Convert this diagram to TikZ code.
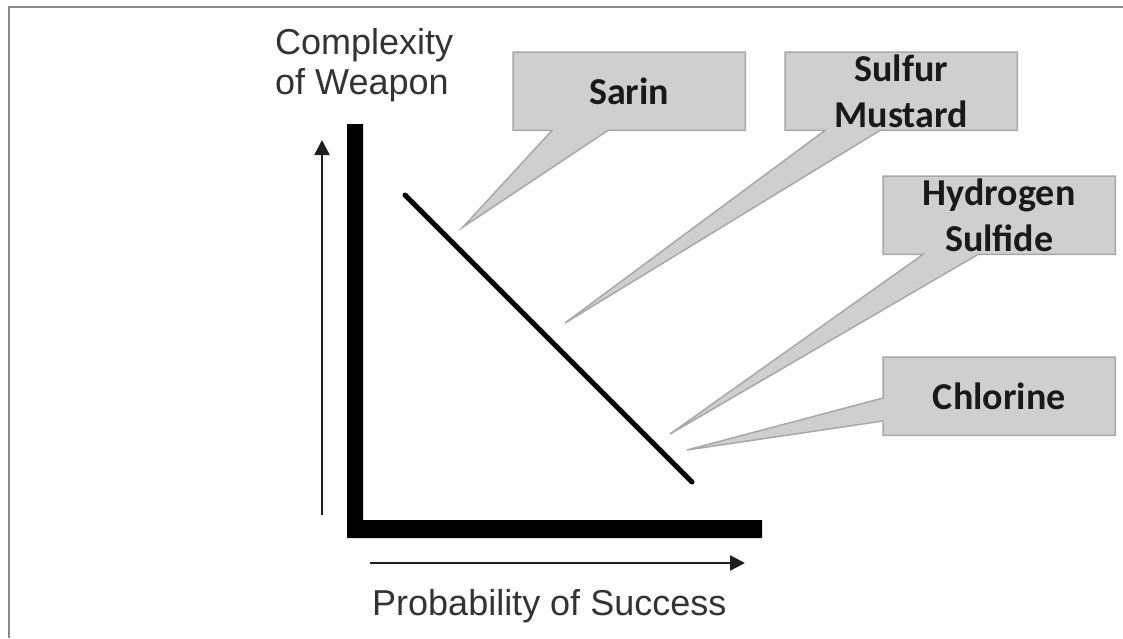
\documentclass[tikz,border=0pt]{standalone}
\usepackage{fontspec}
\setmainfont{Liberation Sans}
\newfontfamily\calloutfont{Carlito}
\usetikzlibrary{arrows.meta,backgrounds,calc}
\definecolor{calfill}{HTML}{CFCFCF}
\definecolor{caledge}{HTML}{A8A8A8}
\definecolor{axtext}{HTML}{333333}
\definecolor{arrowcol}{HTML}{1E1E1E}
\definecolor{frame}{HTML}{8A8A8A}
\begin{document}
\begin{tikzpicture}[x=1pt,y=-1pt,
  calbox/.style={font=\calloutfont\bfseries\fontsize{38}{46}\selectfont, text=black!90,
    align=center, minimum width=232pt, minimum height=78pt, inner sep=0pt, anchor=north west},
  calshape/.style={fill=calfill, draw=caledge, line width=1.5pt, line join=miter},
  axlabel/.style={font=\fontsize{36}{40}\selectfont, text=axtext, inner sep=0pt, align=left},
  thinarrow/.style={draw=arrowcol, line width=2.4pt, -{Triangle[length=15pt,width=15pt]}},
  trend/.style={line width=5pt, line cap=round}]
\useasboundingbox (0,0) rectangle (1123,638);
% frame (top and left only)
\draw[frame, line width=2.5pt] (9,638) -- (9,7) -- (1123,7);

% axes labels
\node[axlabel, anchor=north west] (ylab) at (275,28) {Complexity\\of Weapon};
\node[axlabel, anchor=base west] (xlab) at (372,615) {Probability of Success};

% thick L axes
\fill (347,124) -- (363,124) -- (363,520) -- (762,520) -- (762,538) -- (347,538) -- cycle;

% thin arrows
\coordinate (ya) at (322,515);
\coordinate (yb) at (322,140);
\coordinate (xa) at (370,563);
\coordinate (xb) at (745,563);
\draw[thinarrow] (ya) -- (yb);
\draw[thinarrow] (xa) -- (xb);

% trend line
\coordinate (t1) at (405,195);
\coordinate (t2) at (692,482);
\draw[trend] (t1) -- (t2);

% callouts
\node[calbox] (sarin) at (513,52) {Sarin};
\node[calbox] (mustard) at (785,52) {Sulfur\\Mustard};
\node[calbox] (hydro) at (883,176) {Hydrogen\\Sulfide};
\node[calbox] (chlor) at (883,357) {Chlorine};

\coordinate (sarintip) at (463,227);
\coordinate (mustip) at (565,323);
\coordinate (hydtip) at (670,434);
\coordinate (chltip) at (687,450);

\begin{scope}[on background layer]
\path[calshape] (sarin.north west) -- (sarin.north east) -- (sarin.south east)
  -- ($(sarin.south west)+(95,0)$) -- (sarintip) -- ($(sarin.south west)+(39,0)$)
  -- (sarin.south west) -- cycle;
\path[calshape] (mustard.north west) -- (mustard.north east) -- (mustard.south east)
  -- ($(mustard.south west)+(95,0)$) -- (mustip) -- ($(mustard.south west)+(40,0)$)
  -- (mustard.south west) -- cycle;
\path[calshape] (hydro.north west) -- (hydro.north east) -- (hydro.south east)
  -- ($(hydro.south west)+(95,0)$) -- (hydtip) -- ($(hydro.south west)+(40,0)$)
  -- (hydro.south west) -- cycle;
\path[calshape] (chlor.north west) -- (chlor.north east) -- (chlor.south east)
  -- (chlor.south west) -- ($(chlor.north west)+(0,64)$) -- (chltip)
  -- ($(chlor.north west)+(0,41)$) -- cycle;
\end{scope}
\end{tikzpicture}
\end{document}
